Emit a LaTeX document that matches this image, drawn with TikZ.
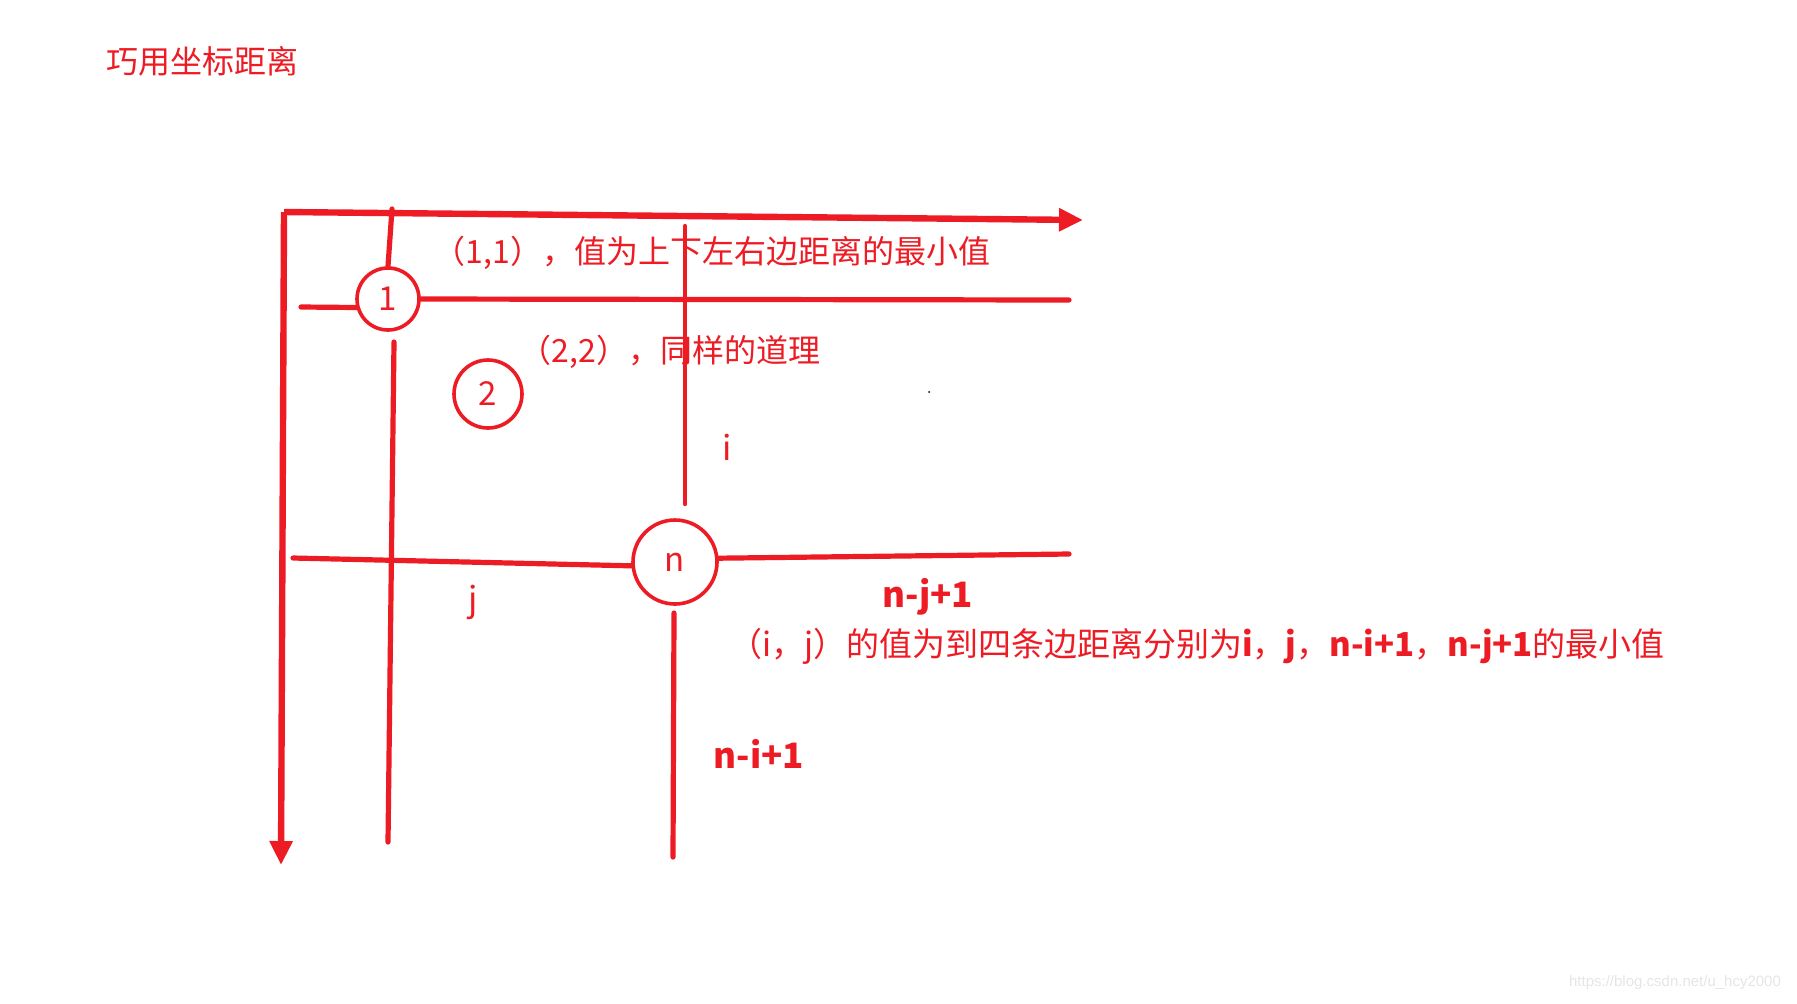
\documentclass[tikz,border=0pt]{standalone}
\usepackage{fontspec}
\setmainfont{Noto Sans CJK SC}
\newfontfamily\urlfont{Liberation Sans}
\usetikzlibrary{arrows.meta}
\definecolor{paintred}{RGB}{237,28,36}

\begin{document}
\begin{tikzpicture}[x=0.5pt,y=-0.5pt,
    redline/.style={paintred, line width=2.6pt, line cap=round},
    axis/.style={paintred, line width=3.2pt, -{Triangle[length=12pt,width=11pt]}},
    ring/.style={circle, draw=paintred, line width=1.8pt, text=paintred, inner sep=0pt, minimum size=#1, font=\fontsize{16.5}{19}\selectfont},
    lbl/.style={text=paintred, font=\fontsize{16}{19}\selectfont, inner sep=0pt}]
    %\draw[help lines, color=gray!30, dashed] (0,0) grid[step=100] (1797,1003);
    \useasboundingbox (0,0) rectangle (1797,1003);
    \node[lbl] (title) at (202,61) {巧用坐标距离};
    \coordinate (o) at (284,212);
    \coordinate (xend) at (1083,220);
    \coordinate (yend) at (281,865);
    \draw[axis] (o) -- (xend);
    \draw[axis] (o) -- (yend);
    \node[ring=31pt] (c1) at (388,299) {1};
    \node[ring=34pt] (c2) at (488,394) {2};
    \node[ring=42pt] (cn) at (675,562) {n};
    \node[lbl] (t11) at (712,253) {（1,1），值为上下左右边距离的最小值};
    \node[lbl] (t22) at (670,352) {（2,2），同样的道理};
    \coordinate (c1top) at (392,209);
    \coordinate (c1left) at (301,307);
    \coordinate (c1right) at (1069,300);
    \coordinate (c1low) at (394,342);
    \coordinate (c1bot) at (388,842);
    \draw[redline] (c1top) -- (c1.north);
    \draw[redline] (c1left) -- (c1.195);
    \draw[redline] (c1.east) -- (c1right);
    \draw[redline] (c1low) -- (c1bot);
    \coordinate (itop) at (685,226);
    \coordinate (ibot) at (685,504);
    \draw[redline, line width=2.2pt] (itop) -- (ibot);
    \coordinate (cnleft) at (293,558);
    \coordinate (cnright) at (1069,554);
    \coordinate (cnlow) at (674,613);
    \coordinate (cnbot) at (673,857);
    \draw[redline] (cnleft) -- (cn.185);
    \draw[redline] (cn.5) -- (cnright);
    \draw[redline] (cnlow) -- (cnbot);
    \node[lbl, font=\fontsize{17}{20}\selectfont] (li) at (727,447) {i};
    \node[lbl, font=\fontsize{17}{20}\selectfont] (lj) at (473,602) {j};
    \node[lbl, font=\fontsize{17.5}{20}\selectfont\bfseries] (lnj) at (928,597) {n-j+1};
    \node[lbl, font=\fontsize{16.5}{19}\selectfont] (tij) at (1197,646) {（i，j）的值为到四条边距离分别为\textbf{i}，\textbf{j}，\textbf{n-i+1}，\textbf{n-j+1}的最小值};
    \node[lbl, font=\fontsize{17.5}{20}\selectfont\bfseries] (lni) at (759,754) {n-i+1};
    \fill[black] (929,392) circle (1);
    \node[text=black!10, font=\urlfont\fontsize{7.5}{9}\selectfont, inner sep=0pt] (mark) at (1675,983) {https://blog.csdn.net/u\_hcy2000};
\end{tikzpicture}
\end{document}
